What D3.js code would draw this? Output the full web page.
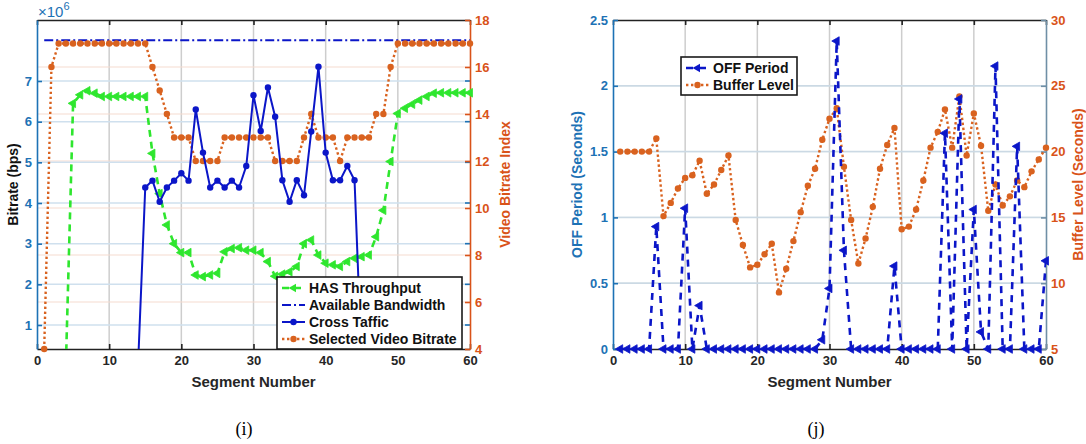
<!DOCTYPE html>
<html>
<head>
<meta charset="utf-8">
<script src="https://cdn.jsdelivr.net/npm/d3@7"></script>
<style>
  body { margin: 0; background: #fff; }
  text { font-family: "Liberation Sans", Arial, sans-serif; font-weight: bold; }
</style>
</head>
<body>
<div id="chart"></div>
<script>
// ---- data ----
let segments = d3.range(1, 61);

// panel (i), bitrates in units of 1e6 bps
let hasThroughput = [0, 0, 0, 0, 6.45, 6.66, 6.76, 6.7, 6.62, 6.62,
  6.62, 6.62, 6.62, 6.62, 6.62, 5.22, 4.23, 3.46, 3.0, 2.78,
  2.78, 2.23, 2.19, 2.23, 2.27, 2.8, 2.88, 2.9, 2.84, 2.84,
  2.78, 2.56, 2.2, 2.25, 2.31, 2.44, 3.0, 3.09, 2.72, 2.52,
  2.48, 2.44, 2.56, 2.64, 2.68, 2.72, 3.17, 3.82, 5.02, 6.2,
  6.33, 6.43, 6.53, 6.62, 6.7, 6.71, 6.71, 6.71, 6.71, 6.71];
let availableBandwidth = [8, 8, 8, 8, 8, 8, 8, 8, 8, 8,
  8, 8, 8, 8, 8, 8, 8, 8, 8, 8,
  8, 8, 8, 8, 8, 8, 8, 8, 8, 8,
  8, 8, 8, 8, 8, 8, 8, 8, 8, 8,
  8, 8, 8, 8, 8, 8, 8, 8, 8, 8,
  8, 8, 8, 8, 8, 8, 8, 8, 8, 8];
let crossTraffic = [0, 0, 0, 0, 0, 0, 0, 0, 0, 0,
  0, 0, 0, 0, 4.38, 4.55, 4.03, 4.38, 4.55, 4.73,
  4.55, 6.3, 5.24, 4.38, 4.55, 4.38, 4.55, 4.38, 4.91, 6.65,
  5.77, 6.84, 6.12, 4.56, 4.03, 4.56, 4.19, 5.76, 7.35, 5.24,
  4.56, 4.56, 4.91, 4.56, 0, 0, 0, 0, 0, 0,
  0, 0, 0, 0, 0, 0, 0, 0, 0, 0];
let selectedBitrate = [4, 16, 17, 17, 17, 17, 17, 17, 17, 17,
  17, 17, 17, 17, 17, 16, 15, 14, 13, 13,
  13, 12, 12, 12, 12, 13, 13, 13, 13, 13,
  13, 13, 12, 12, 12, 12, 13, 14, 13, 13,
  13, 12, 13, 13, 13, 13, 14, 14, 16, 17,
  17, 17, 17, 17, 17, 17, 17, 17, 17, 17];

// panel (j), seconds
let offPeriod = [0, 0, 0, 0, 0, 0.93, 0, 0, 0, 1.07,
  0, 0.33, 0, 0, 0, 0, 0, 0, 0, 0,
  0, 0, 0, 0, 0, 0, 0, 0, 0.07, 0.46,
  2.34, 0.75, 0, 0, 0, 0, 0, 0, 0.63, 0,
  0, 0, 0, 0, 0, 1.64, 0, 1.9, 0, 1.06,
  0.13, 0, 2.15, 0, 0, 1.54, 0, 0, 0, 0.67];
let bufferLevel = [20, 20, 20, 20, 20, 21.0, 15.1, 16.1, 17.2, 18.0,
  18.2, 19.3, 16.8, 17.5, 18.6, 19.7, 14.8, 12.9, 11.2, 11.4,
  12.2, 13.0, 9.3, 11.1, 13.2, 15.4, 17.4, 18.7, 20.9, 22.5,
  23.3, 18.85, 14.8, 11.5, 13.4, 15.8, 18.7, 20.5, 21.8, 14.1,
  14.3, 15.6, 17.8, 20.3, 21.5, 23.2, 20.3, 24.2, 19.7, 22.9,
  20.45, 15.5, 17.5, 15.9, 16.6, 17.8, 17.3, 18.5, 19.4, 20.3];

let xTicks = [0, 10, 20, 30, 40, 50, 60];
let bitrateTicks = [1, 2, 3, 4, 5, 6, 7];
let indexTicks = [4, 6, 8, 10, 12, 14, 16, 18];
let offTicks = [0, 0.5, 1, 1.5, 2, 2.5];
let bufferTicks = [5, 10, 15, 20, 25, 30];

// ---- colours ----
var axisBlue = "#1d72b5",
  axisOrange = "#d95319",
  lineBlue = "#0b16c8",
  lineGreen = "#2ee62e",
  dotOrange = "#d9621f";

var w = 1086,
  h = 444;

var svg = d3
  .select("#chart")
  .append("svg")
  .attr("width", w)
  .attr("height", h)
  .style("background", "#fff");

var triangle = d3.symbol().type(d3.symbolTriangle).size(32);

function styleAxis(sel, color, textColor) {
  sel.attr("font-family", '"Liberation Sans", Arial, sans-serif')
    .attr("font-size", 13)
    .attr("font-weight", "bold");
  sel.select(".domain").attr("stroke", color).attr("stroke-width", 1.6);
  sel.selectAll(".tick line").attr("stroke", color).attr("stroke-width", 1.6);
  sel.selectAll(".tick text").attr("fill", textColor);
}

// frame, grid and axes of one panel
function drawFrame(p) {
  var g = p.g;
  var l = p.x.range()[0], r = p.x.range()[1];
  var b = p.yL.range()[0], t = p.yL.range()[1];

  g.selectAll(".vgrid")
    .data(xTicks.slice(1, -1))
    .enter()
    .append("line")
    .attr("x1", (d) => p.x(d))
    .attr("x2", (d) => p.x(d))
    .attr("y1", t)
    .attr("y2", b)
    .attr("stroke", "#cdcdcd")
    .attr("stroke-width", 1.5);

  g.selectAll(".rgrid")
    .data(p.rightTicks.slice(1, -1))
    .enter()
    .append("line")
    .attr("x1", l)
    .attr("x2", r)
    .attr("y1", (d) => p.yR(d))
    .attr("y2", (d) => p.yR(d))
    .attr("stroke", p.gridR)
    .attr("stroke-width", 1.2);

  g.selectAll(".lgrid")
    .data(p.leftTicks.filter((d) => p.yL(d) > t + 1 && p.yL(d) < b - 1))
    .enter()
    .append("line")
    .attr("x1", l)
    .attr("x2", r)
    .attr("y1", (d) => p.yL(d))
    .attr("y2", (d) => p.yL(d))
    .attr("stroke", p.gridL)
    .attr("stroke-width", 1.5);

  // top
  g.append("g")
    .attr("transform", "translate(0," + t + ")")
    .call(d3.axisTop(p.x).tickValues(xTicks).tickSize(-5).tickSizeOuter(0).tickFormat(""))
    .call(styleAxis, "#222", "#222");

  // mirrored left ticks on the right edge
  if (p.mirror) {
    g.selectAll(".mtick")
      .data(p.leftTicks)
      .enter()
      .append("line")
      .attr("x1", r - 5)
      .attr("x2", r)
      .attr("y1", (d) => p.yL(d))
      .attr("y2", (d) => p.yL(d))
      .attr("stroke", axisBlue)
      .attr("stroke-width", 1.6);
  }

  // bottom
  g.append("g")
    .attr("transform", "translate(0," + b + ")")
    .call(d3.axisBottom(p.x).tickValues(xTicks).tickSize(-5).tickSizeOuter(0).tickPadding(7))
    .call(styleAxis, "#222", "#262626");

  // left
  g.append("g")
    .attr("transform", "translate(" + l + ",0)")
    .call(d3.axisLeft(p.yL).tickValues(p.leftTicks).tickSize(-5).tickSizeOuter(0).tickPadding(5)
      .tickFormat((d) => String(d)))
    .call(styleAxis, axisBlue, axisBlue);

  // right
  g.append("g")
    .attr("transform", "translate(" + r + ",0)")
    .call(d3.axisRight(p.yR).tickValues(p.rightTicks).tickSize(-5).tickSizeOuter(0).tickPadding(5)
      .tickFormat((d) => String(d)))
    .call(styleAxis, p.rightLine, axisOrange);

  g.append("text")
    .attr("transform", "translate(" + ((l + r) / 2) + "," + (b + 38) + ")")
    .attr("text-anchor", "middle")
    .attr("font-size", 15)
    .attr("fill", "#262626")
    .text("Segment Number");

  g.append("text")
    .attr("transform", "translate(" + p.leftTitleX + "," + ((t + b) / 2) + ") rotate(-90)")
    .attr("text-anchor", "middle")
    .attr("font-size", 14)
    .attr("fill", p.leftTitleColor)
    .text(p.leftTitle);

  g.append("text")
    .attr("transform", "translate(" + p.rightTitleX + "," + ((t + b) / 2) + ") rotate(-90)")
    .attr("text-anchor", "middle")
    .attr("font-size", 14)
    .attr("fill", axisOrange)
    .text(p.rightTitle);

  g.append("clipPath")
    .attr("id", p.clip)
    .append("rect")
    .attr("x", l)
    .attr("y", t)
    .attr("width", r - l)
    .attr("height", b - t);
}

function drawSeries(g, x, y, values, s, clip) {
  var pts = segments.map((d, i) => [d, values[i]]);
  var line = d3.line().x((d) => x(d[0])).y((d) => y(d[1]));
  g.append("path")
    .datum(pts)
    .attr("d", line)
    .attr("clip-path", "url(#" + clip + ")")
    .attr("fill", "none")
    .attr("stroke", s.color)
    .attr("stroke-width", s.width)
    .attr("stroke-dasharray", s.dash || null);

  if (!s.marker) return;
  var lo = y.domain()[0], hi = y.domain()[1];
  var inside = pts.filter((d) => d[1] >= lo && d[1] <= hi);
  if (s.marker == "circle") {
    g.selectAll(null)
      .data(inside)
      .enter()
      .append("circle")
      .attr("cx", (d) => x(d[0]))
      .attr("cy", (d) => y(d[1]))
      .attr("r", s.r || 3.2)
      .attr("fill", s.markerColor || s.color);
  } else {
    g.selectAll(null)
      .data(inside)
      .enter()
      .append("path")
      .attr("d", triangle)
      .attr("transform", (d) => "translate(" + x(d[0]) + "," + y(d[1]) + ") rotate(-90)")
      .attr("fill", s.color)
      .attr("stroke", s.color)
      .attr("stroke-width", 0.8);
  }
}

function drawLegend(g, x0, y0, wd, items) {
  var rowH = 17;
  g.append("rect")
    .attr("x", x0)
    .attr("y", y0)
    .attr("width", wd)
    .attr("height", items.length * rowH + 4)
    .attr("fill", "#fff")
    .attr("stroke", "#1a1a1a")
    .attr("stroke-width", 1.6);
  items.forEach(function (s, i) {
    var cy = y0 + 11 + i * rowH;
    g.append("line")
      .attr("x1", x0 + 5)
      .attr("x2", x0 + 28)
      .attr("y1", cy)
      .attr("y2", cy)
      .attr("stroke", s.color)
      .attr("stroke-width", s.width)
      .attr("stroke-dasharray", s.dash || null);
    if (s.marker == "circle") {
      g.append("circle").attr("cx", x0 + 16.5).attr("cy", cy).attr("r", 3.2).attr("fill", s.markerColor || s.color);
    } else if (s.marker == "triangle") {
      g.append("path")
        .attr("d", triangle)
        .attr("transform", "translate(" + (x0 + 16.5) + "," + cy + ") rotate(-90)")
        .attr("fill", s.color);
    }
    g.append("text")
      .attr("x", x0 + 32)
      .attr("y", cy + 5)
      .attr("font-size", 14)
      .attr("fill", "#111")
      .text(s.label);
  });
}

// ---------- panel (i) ----------
var xA = d3.scaleLinear().domain([0, 60]).range([37, 470]);
var yAL = d3.scaleLinear().domain([0.41, 8.5]).range([349, 20]);
var yAR = d3.scaleLinear().domain([4, 18]).range([349, 20]);
var gA = svg.append("g");

drawFrame({
  g: gA, x: xA, yL: yAL, yR: yAR,
  leftTicks: bitrateTicks, rightTicks: indexTicks,
  gridL: "#cfe0ee", gridR: "#f6dccf", rightLine: axisOrange, mirror: true,
  leftTitle: "Bitrate (bps)", leftTitleX: 18, leftTitleColor: "#111",
  rightTitle: "Video Bitrate Index", rightTitleX: 510, clip: "clipA",
});

gA.append("text")
  .attr("x", 38)
  .attr("y", 17)
  .style("font-weight", "normal")
  .attr("font-size", 15)
  .attr("fill", axisBlue)
  .text("×10")
  .append("tspan")
  .attr("dy", -7)
  .attr("font-size", 11)
  .text("6");

var sHas = { label: "HAS Throughput", color: lineGreen, width: 2.6, dash: "7,5", marker: "triangle" };
var sBw = { label: "Available Bandwidth", color: lineBlue, width: 2, dash: "9,3,2,3" };
var sCross = { label: "Cross Taffic", color: lineBlue, width: 2, marker: "circle" };
var sSel = { label: "Selected Video Bitrate", color: dotOrange, width: 2.4, dash: "2.4,2.6", marker: "circle" };

drawSeries(gA, xA, yAL, availableBandwidth, sBw, "clipA");
drawSeries(gA, xA, yAR, selectedBitrate, sSel, "clipA");
drawSeries(gA, xA, yAL, hasThroughput, sHas, "clipA");
drawSeries(gA, xA, yAL, crossTraffic, sCross, "clipA");

drawLegend(gA, 277, 277, 185, [sHas, sBw, sCross, sSel]);

// ---------- panel (j) ----------
var xB = d3.scaleLinear().domain([0, 60]).range([613, 1046]);
var yBL = d3.scaleLinear().domain([0, 2.5]).range([349, 20]);
var yBR = d3.scaleLinear().domain([5, 30]).range([349, 20]);
var gB = svg.append("g");

drawFrame({
  g: gB, x: xB, yL: yBL, yR: yBR,
  leftTicks: offTicks, rightTicks: bufferTicks,
  gridL: "#cbd9e4", gridR: "#cbd9e4", rightLine: "#6f8fa6", mirror: false,
  leftTitle: "OFF Period (Seconds)", leftTitleX: 582, leftTitleColor: axisBlue,
  rightTitle: "Buffer Level (Seconds)", rightTitleX: 1083, clip: "clipB",
});

var sOff = { label: "OFF Period", color: lineBlue, width: 2.6, dash: "7,6", marker: "triangle" };
var sBuf = { label: "Buffer Level", color: dotOrange, width: 2.4, dash: "2.4,2.6", marker: "circle" };

drawSeries(gB, xB, yBR, bufferLevel, sBuf, "clipB");
drawSeries(gB, xB, yBL, offPeriod, sOff, "clipB");

drawLegend(gB, 681, 57, 116, [sOff, sBuf]);

// captions
svg.append("text")
  .attr("x", 244)
  .attr("y", 435)
  .attr("text-anchor", "middle")
  .style("font-family", '"Liberation Serif", serif')
  .style("font-weight", "normal")
  .attr("font-size", 18)
  .text("(i)");

svg.append("text")
  .attr("x", 816)
  .attr("y", 435)
  .attr("text-anchor", "middle")
  .style("font-family", '"Liberation Serif", serif')
  .style("font-weight", "normal")
  .attr("font-size", 18)
  .text("(j)");
</script>
</body>
</html>
